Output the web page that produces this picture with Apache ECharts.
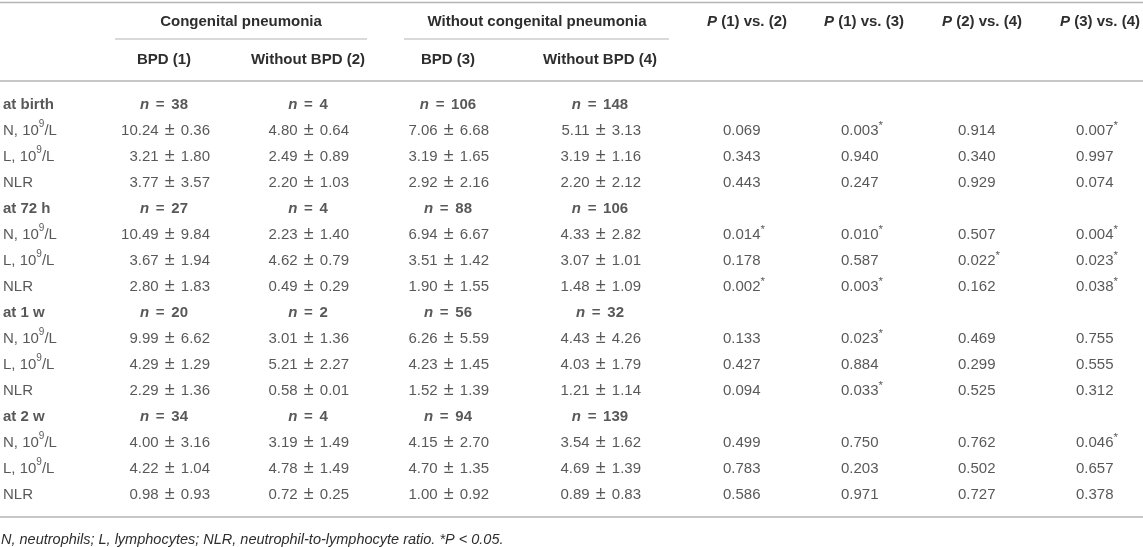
<!DOCTYPE html>
<html><head><meta charset="utf-8">
<script src="https://cdn.jsdelivr.net/npm/echarts@6/dist/echarts.min.js"></script>
<style>html,body{margin:0;padding:0;background:#fff}#c{width:1143px;height:547px}</style>
</head><body><div id="c"></div>
<script>
// ---------------- data ----------------
const timepoints = ['at birth', 'at 72 h', 'at 1 w', 'at 2 w'];
const measures = ['N', 'L', 'NLR'];
const measureLabels = ['N, 10{sup|9}/L', 'L, 10{sup|9}/L', 'NLR'];
const groupHeaders = ['Congenital pneumonia', 'Without congenital pneumonia'];
const subHeaders = ['BPD (1)', 'Without BPD (2)', 'BPD (3)', 'Without BPD (4)'];
const pHeaders = ['(1) vs. (2)', '(1) vs. (3)', '(2) vs. (4)', '(3) vs. (4)'];
const footnote = 'N, neutrophils; L, lymphocytes; NLR, neutrophil-to-lymphocyte ratio. *P < 0.05.';

const nBPD1 = [38, 27, 20, 34];
const nNoBPD2 = [4, 4, 2, 4];
const nBPD3 = [106, 88, 56, 94];
const nNoBPD4 = [148, 106, 32, 139];

// per timepoint: N, L, NLR
const meanBPD1 = [10.24, 3.21, 3.77, 10.49, 3.67, 2.80, 9.99, 4.29, 2.29, 4.00, 4.22, 0.98];
const sdBPD1 = [0.36, 1.80, 3.57, 9.84, 1.94, 1.83, 6.62, 1.29, 1.36, 3.16, 1.04, 0.93];
const meanNoBPD2 = [4.80, 2.49, 2.20, 2.23, 4.62, 0.49, 3.01, 5.21, 0.58, 3.19, 4.78, 0.72];
const sdNoBPD2 = [0.64, 0.89, 1.03, 1.40, 0.79, 0.29, 1.36, 2.27, 0.01, 1.49, 1.49, 0.25];
const meanBPD3 = [7.06, 3.19, 2.92, 6.94, 3.51, 1.90, 6.26, 4.23, 1.52, 4.15, 4.70, 1.00];
const sdBPD3 = [6.68, 1.65, 2.16, 6.67, 1.42, 1.55, 5.59, 1.45, 1.39, 2.70, 1.35, 0.92];
const meanNoBPD4 = [5.11, 3.19, 2.20, 4.33, 3.07, 1.48, 4.43, 4.03, 1.21, 3.54, 4.69, 0.89];
const sdNoBPD4 = [3.13, 1.16, 2.12, 2.82, 1.01, 1.09, 4.26, 1.79, 1.14, 1.62, 1.39, 0.83];

const p1v2 = [0.069, 0.343, 0.443, 0.014, 0.178, 0.002, 0.133, 0.427, 0.094, 0.499, 0.783, 0.586];
const p1v3 = [0.003, 0.940, 0.247, 0.010, 0.587, 0.003, 0.023, 0.884, 0.033, 0.750, 0.203, 0.971];
const p2v4 = [0.914, 0.340, 0.929, 0.507, 0.022, 0.162, 0.469, 0.299, 0.525, 0.762, 0.502, 0.727];
const p3v4 = [0.007, 0.997, 0.074, 0.004, 0.023, 0.038, 0.755, 0.555, 0.312, 0.046, 0.657, 0.378];

// ---------------- layout (positions/styles) ----------------
const W = 1143, H = 547;
const FONT = '"Liberation Sans", Arial, Helvetica, sans-serif';
const TXT = '#2e2e2e';
const RULE = '#b4b4b4';
const FS = 15;
const layout = {
  labelX: 3,
  nCenterX: [164, 308, 448, 600],
  valRightX: [210, 349, 489, 641],
  pLeftX: [723, 841, 958, 1076],
  pHeadX: [747, 864, 982, 1100],
  groupCenterX: [241, 537],
  groupLine: [[115, 367], [404, 669]],
  headY1: 22, headY2: 60,
  topRuleY: 2.5, groupRuleY: 39, headRuleY: 81, bottomRuleY: 517,
  footY: 540,
  gridTop: 91.5, rowH: 26
};

const RICH = {
  b: { fontFamily: FONT, fontSize: FS, fontWeight: 'bold', color: TXT, lineHeight: 22 },
  beq: { fontFamily: FONT, fontSize: FS, fontWeight: 'bold', color: TXT, lineHeight: 22, padding: [0, 2.5] },
  ni: { fontFamily: FONT, fontSize: FS, fontWeight: 'bold', fontStyle: 'italic', color: TXT, lineHeight: 22 },
  r: { fontFamily: FONT, fontSize: FS, color: TXT, lineHeight: 22 },
  pm: { fontFamily: FONT, fontSize: 18, color: TXT, lineHeight: 22, padding: [0, 2] },
  sup: { fontFamily: FONT, fontSize: 10, color: TXT, verticalAlign: 'top' },
  ast: { fontFamily: FONT, fontSize: 11.5, color: TXT, lineHeight: 17, verticalAlign: 'top' },
  pi: { fontFamily: FONT, fontSize: FS, fontWeight: 'bold', fontStyle: 'italic', color: TXT },
  pb: { fontFamily: FONT, fontSize: FS, fontWeight: 'bold', color: TXT }
};

// ---------------- build rows ----------------
const rowKeys = [];
const rowInfo = [];
timepoints.forEach((tp, t) => {
  rowKeys.push(tp); rowInfo.push({ kind: 'head', t });
  measures.forEach((m, k) => { rowKeys.push(tp + ' / ' + m); rowInfo.push({ kind: 'val', t, k, i: t * 3 + k }); });
});

const groupsN = [nBPD1, nNoBPD2, nBPD3, nNoBPD4];
const groupsMean = [meanBPD1, meanNoBPD2, meanBPD3, meanNoBPD4];
const groupsSd = [sdBPD1, sdNoBPD2, sdBPD3, sdNoBPD4];
const pCols = [p1v2, p1v3, p2v4, p3v4];

function textLabel(align) {
  return {
    show: true, position: 'inside', align, verticalAlign: 'middle',
    fontFamily: FONT, fontSize: FS, color: TXT, lineHeight: 22, rich: RICH,
    formatter: p => p.value[2]
  };
}
function cellSeries(name, data, align) {
  return {
    name, type: 'scatter', symbolSize: 0, silent: true, animation: false,
    itemStyle: { color: 'rgba(0,0,0,0)' },
    label: textLabel(align), data
  };
}

const series = [];
// row label column
series.push(cellSeries('rows', rowInfo.map((r, idx) => [
  layout.labelX, rowKeys[idx],
  r.kind === 'head' ? '{b|' + timepoints[r.t] + '}' : '{r|' + measureLabels[r.k].replace('{sup|9}', '}{sup|9}{r|') + '}'
]), 'left'));

// group columns: n counts (centered)
groupsN.forEach((arr, g) => {
  series.push(cellSeries('n' + g, rowInfo.map((r, idx) => r.kind === 'head'
    ? [layout.nCenterX[g], rowKeys[idx], '{ni|n}{b| }{beq|=}{b| ' + arr[r.t] + '}'] : null).filter(Boolean), 'center'));
});
// group columns: mean ± sd (right aligned)
groupsMean.forEach((arr, g) => {
  series.push(cellSeries('v' + g, rowInfo.map((r, idx) => r.kind === 'val'
    ? [layout.valRightX[g], rowKeys[idx], '{r|' + arr[r.i].toFixed(2) + ' }{pm|\u00b1}{r| ' + groupsSd[g][r.i].toFixed(2) + '}'] : null).filter(Boolean), 'right'));
});
// P columns
pCols.forEach((arr, c) => {
  series.push(cellSeries('p' + c, rowInfo.map((r, idx) => r.kind === 'val'
    ? [layout.pLeftX[c], rowKeys[idx], '{r|' + arr[r.i].toFixed(3) + '}' + (arr[r.i] < 0.05 ? '{ast|*}' : '')] : null).filter(Boolean), 'left'));
});

// ---------------- graphics: headers, rules, footnote ----------------
const graphic = [];
function hline(x1, x2, y, lw) {
  graphic.push({ type: 'line', silent: true, shape: { x1, y1: y, x2, y2: y }, style: { stroke: RULE, lineWidth: lw } });
}
hline(0, W, layout.topRuleY, 1.5);
hline(0, W, layout.headRuleY, 1.5);
hline(0, W, layout.bottomRuleY, 1.5);
layout.groupLine.forEach(([a, b]) => hline(a, b, layout.groupRuleY, 1.2));

function htext(x, y, text, align) {
  graphic.push({ type: 'text', silent: true, x, y,
    style: { text, rich: RICH, fontFamily: FONT, fontSize: FS, fill: TXT, align: align || 'center', verticalAlign: 'middle' } });
}
groupHeaders.forEach((h, i) => htext(layout.groupCenterX[i], layout.headY1, '{pb|' + h + '}'));
subHeaders.forEach((h, i) => htext(layout.nCenterX[i], layout.headY2, '{pb|' + h + '}'));
pHeaders.forEach((h, i) => htext(layout.pHeadX[i], layout.headY1, '{pi|P}{pb| ' + h + '}'));
graphic.push({ type: 'text', silent: true, x: 1, y: layout.footY,
  style: { text: footnote, fontFamily: FONT, fontSize: 14.5, fontStyle: 'italic', fill: TXT, align: 'left', verticalAlign: 'middle' } });

const chart = echarts.init(document.getElementById('c'), null, { renderer: 'canvas' });
chart.setOption({
  backgroundColor: '#ffffff',
  animation: false,
  grid: { left: 0, right: 0, top: layout.gridTop, height: layout.rowH * rowKeys.length, containLabel: false },
  xAxis: { type: 'value', min: 0, max: W, show: false },
  yAxis: { type: 'category', data: rowKeys, inverse: true, show: false },
  tooltip: { show: false },
  series,
  graphic
});
</script>
</body></html>
